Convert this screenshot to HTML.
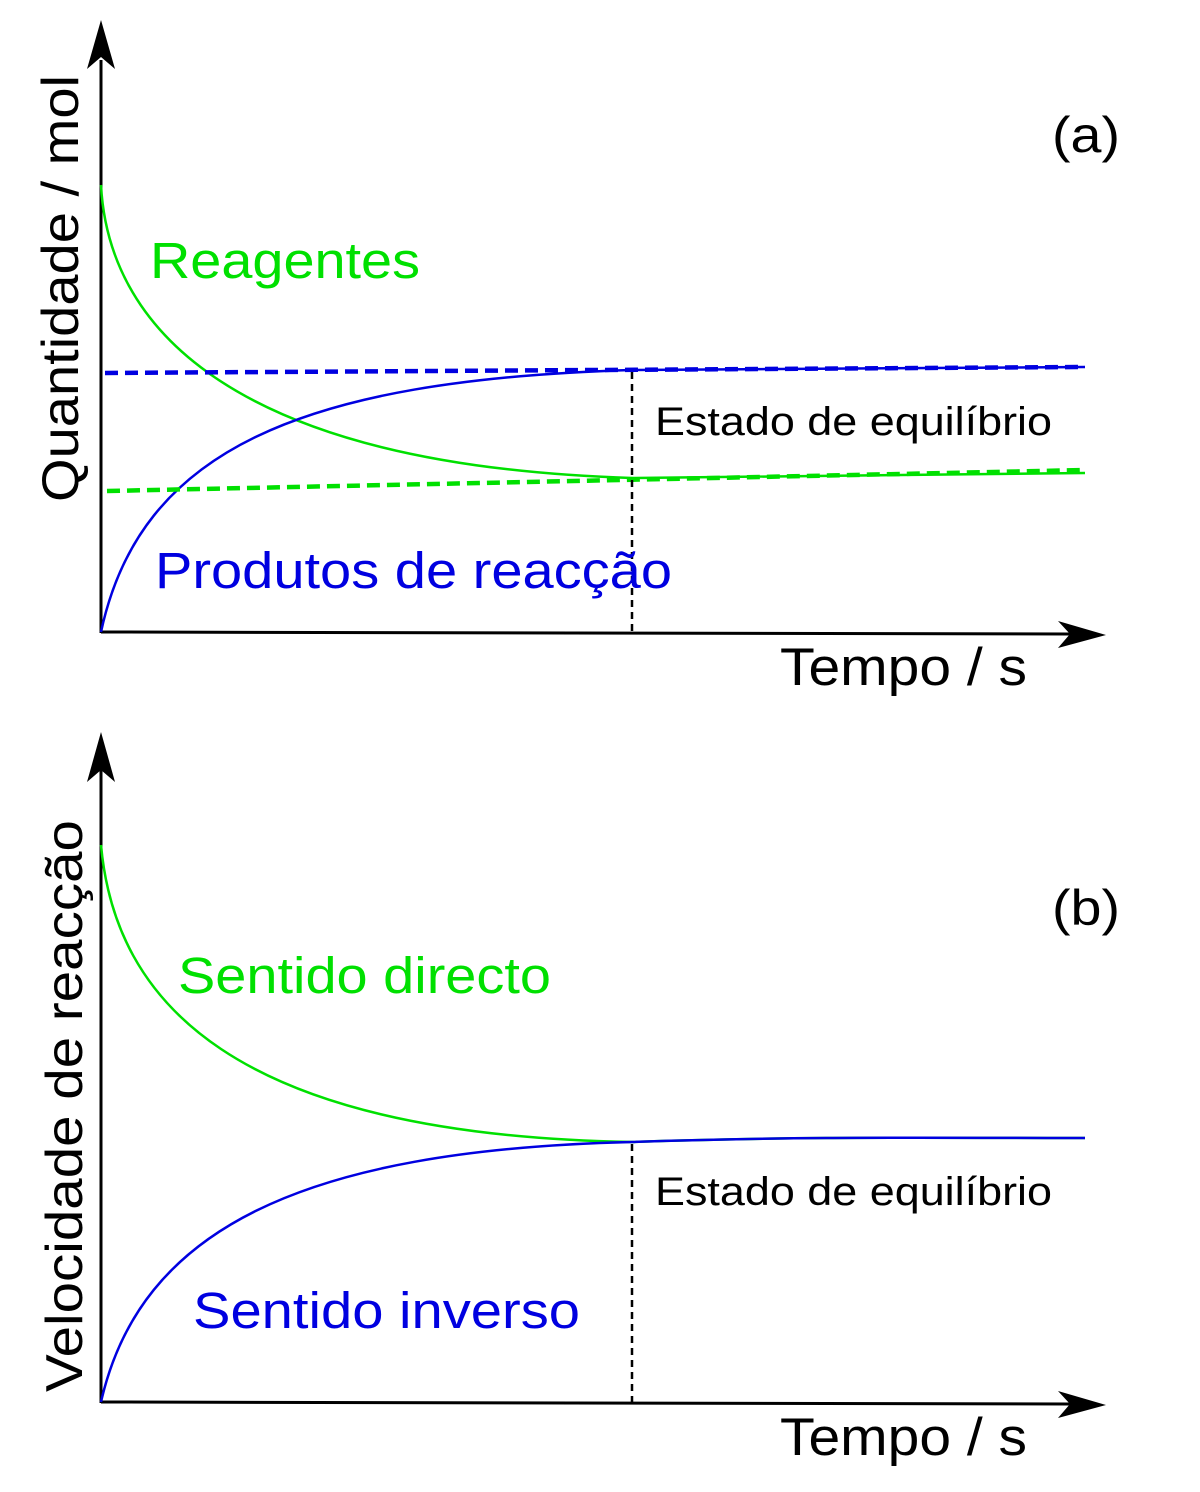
<!DOCTYPE html>
<html><head><meta charset="utf-8"><style>
html,body{margin:0;padding:0;background:#fff;}
svg{display:block;}
text{font-family:"Liberation Sans",Arial,sans-serif;}
</style></head><body>
<svg width="1200" height="1492" viewBox="0 0 1200 1492" xmlns="http://www.w3.org/2000/svg">
<!-- Top chart -->
<line x1="101" y1="60" x2="101" y2="633" stroke="#000" stroke-width="3"/>
<path d="M101,20 L115,69 L101,57 L87,69 Z" fill="#000"/>
<line x1="101" y1="632" x2="1070" y2="634" stroke="#000" stroke-width="3"/>
<path d="M1106,635 L1058,621 L1070,634 L1058,648 Z" fill="#000"/>
<path d="M101,185 C108,320 220,465 632,478 L1085,473" fill="none" stroke="#00e000" stroke-width="2.5"/>
<path d="M101,632 C140,450 300,380 632,370 L1085,367" fill="none" stroke="#0000e0" stroke-width="2.5"/>
<line x1="105" y1="373" x2="1085" y2="367" stroke="#0000e0" stroke-width="4.5" stroke-dasharray="13,7"/>
<line x1="107" y1="491" x2="1085" y2="470" stroke="#00e000" stroke-width="4.5" stroke-dasharray="13,7"/>
<line x1="632" y1="372" x2="632" y2="632" stroke="#000" stroke-width="2.5" stroke-dasharray="7,5"/>
<text x="1052" y="152" font-size="50" textLength="68" lengthAdjust="spacingAndGlyphs">(a)</text>
<text x="150" y="278" font-size="51" fill="#00e000" textLength="270" lengthAdjust="spacingAndGlyphs">Reagentes</text>
<text x="155" y="588" font-size="51" fill="#0000e0" textLength="517" lengthAdjust="spacingAndGlyphs">Produtos de reacção</text>
<text x="655" y="435" font-size="40" textLength="397" lengthAdjust="spacingAndGlyphs">Estado de equilíbrio</text>
<text x="780" y="685" font-size="53" textLength="247" lengthAdjust="spacingAndGlyphs">Tempo / s</text>
<text transform="translate(78,502) rotate(-90)" font-size="52" textLength="427" lengthAdjust="spacingAndGlyphs">Quantidade / mol</text>
<!-- Bottom chart -->
<line x1="101" y1="770" x2="101" y2="1403" stroke="#000" stroke-width="3"/>
<path d="M101,732 L115,782 L101,770 L87,782 Z" fill="#000"/>
<line x1="101" y1="1402" x2="1070" y2="1404" stroke="#000" stroke-width="3"/>
<path d="M1106,1405 L1058,1391 L1070,1404 L1058,1418 Z" fill="#000"/>
<path d="M101,845 C115,1000 230,1135 632,1142 C800,1136 950,1138 1085,1138" fill="none" stroke="#00e000" stroke-width="2.5"/>
<path d="M101,1402 C140,1230 300,1150 632,1142 C800,1136 950,1138 1085,1138" fill="none" stroke="#0000e0" stroke-width="2.5"/>
<line x1="632" y1="1144" x2="632" y2="1402" stroke="#000" stroke-width="2.5" stroke-dasharray="7,5"/>
<text x="1052" y="925" font-size="50" textLength="68" lengthAdjust="spacingAndGlyphs">(b)</text>
<text x="178" y="993" font-size="51" fill="#00e000" textLength="373" lengthAdjust="spacingAndGlyphs">Sentido directo</text>
<text x="193" y="1328" font-size="51" fill="#0000e0" textLength="387" lengthAdjust="spacingAndGlyphs">Sentido inverso</text>
<text x="655" y="1205" font-size="40" textLength="397" lengthAdjust="spacingAndGlyphs">Estado de equilíbrio</text>
<text x="780" y="1455" font-size="53" textLength="247" lengthAdjust="spacingAndGlyphs">Tempo / s</text>
<text transform="translate(82,1392) rotate(-90)" font-size="52" textLength="572" lengthAdjust="spacingAndGlyphs">Velocidade de reacção</text>
</svg>
</body></html>
